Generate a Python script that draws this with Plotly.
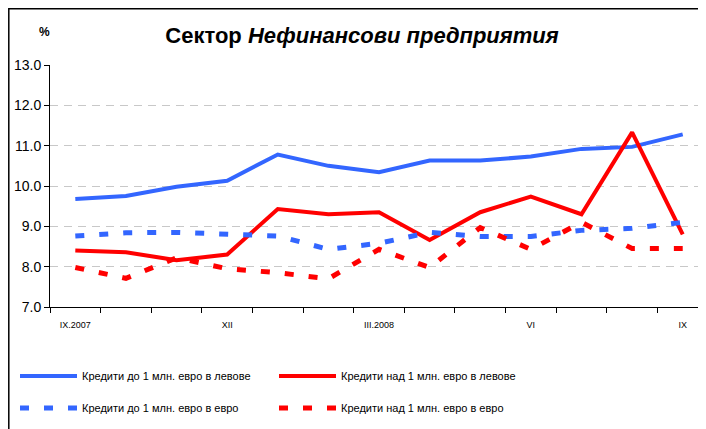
import plotly.graph_objects as go

months = ["IX.2007", "X", "XI", "XII", "I", "II", "III.2008", "IV", "V", "VI", "VII", "VIII", "IX"]
tick_labels = ["IX.2007", "", "", "XII", "", "", "III.2008", "", "", "VI", "", "", "IX"]

lev_small = [9.68, 9.75, 9.98, 10.13, 10.78, 10.50, 10.34, 10.63, 10.63, 10.73, 10.92, 10.97, 11.28]
lev_large = [8.40, 8.36, 8.16, 8.30, 9.43, 9.30, 9.35, 8.66, 9.35, 9.74, 9.30, 11.33, 8.80]
eur_small = [8.76, 8.84, 8.85, 8.80, 8.76, 8.43, 8.58, 8.85, 8.75, 8.75, 8.90, 8.95, 9.10]
eur_large = [7.98, 7.71, 8.22, 7.95, 7.85, 7.70, 8.43, 7.98, 8.97, 8.43, 9.10, 8.45, 8.45]

names = [
    "Кредити до 1 млн. евро в левове",
    "Кредити над 1 млн. евро в левове",
    "Кредити до 1 млн. евро в евро",
    "Кредити над 1 млн. евро в евро",
]

BLUE = "#3366FF"
RED = "#FF0000"
FONT = "Liberation Sans, Arial, sans-serif"

# figure geometry (page has an 8px body margin)
W, H = 698, 421
ML, MT, MR, MB = 42, 57, 0, 122
PW, PH = W - ML - MR, H - MT - MB


def px(v):  # page x -> paper x
    return (v - 8 - ML) / PW


def py(v):  # page y -> paper y
    return (H - MB - (v - 8)) / PH


x = list(range(len(months)))

fig = go.Figure()
fig.add_trace(go.Scatter(x=x, y=lev_small, name=names[0], mode="lines",
                         line=dict(color=BLUE, width=4), legend="legend"))
fig.add_trace(go.Scatter(x=x, y=lev_large, name=names[1], mode="lines",
                         line=dict(color=RED, width=4), legend="legend"))
fig.add_trace(go.Scatter(x=x, y=eur_small, name=names[2], mode="lines",
                         line=dict(color=BLUE, width=5, dash="9px,15px"), legend="legend2"))
fig.add_trace(go.Scatter(x=x, y=eur_large, name=names[3], mode="lines",
                         line=dict(color=RED, width=5, dash="9px,15px"), legend="legend2"))
# invisible trace to activate overlay x-axis for labels
fig.add_trace(go.Scatter(x=x, y=lev_small, xaxis="x2", mode="lines",
                         line=dict(width=0), showlegend=False, hoverinfo="skip", opacity=0))

xr = [-0.5, 12.46]
legend_common = dict(orientation="h", xanchor="left", yanchor="middle",
                     font=dict(family=FONT, size=11, color="black"),
                     itemwidth=57,
                     entrywidth=187, entrywidthmode="pixels",
                     bgcolor="rgba(0,0,0,0)", borderwidth=0)

fig.update_layout(
    width=W, height=H,
    margin=dict(l=ML, r=MR, t=MT, b=MB, autoexpand=False),
    paper_bgcolor="white", plot_bgcolor="white",
    showlegend=True,
    title=dict(text="<b>Сектор <i>Нефинансови предприятия</i></b>",
               font=dict(family=FONT, size=22, color="black"),
               x=(362 - 8) / W, xanchor="center", xref="container",
               y=1 - (35 - 8) / H, yanchor="middle", yref="container"),
    xaxis=dict(range=xr, tickvals=[i - 0.5 for i in range(14)], showticklabels=False,
               ticks="outside", ticklen=5, tickcolor="black", tickwidth=1,
               showline=True, linecolor="black", linewidth=1, showgrid=False, zeroline=False),
    xaxis2=dict(range=xr, overlaying="x", side="bottom", tickvals=x, ticktext=tick_labels,
                ticks="outside", ticklen=9, tickcolor="rgba(0,0,0,0)",
                tickfont=dict(family=FONT, size=9, color="black"),
                showline=False, showgrid=False, zeroline=False),
    yaxis=dict(range=[7, 13], dtick=1, tick0=7, tickformat=".1f",
               ticks="outside", ticklen=5, tickcolor="black",
               tickfont=dict(family=FONT, size=14, color="black"),
               showline=True, linecolor="black", linewidth=1,
               showgrid=True, gridcolor="#C8C8C8", gridwidth=1, griddash="8px,6px",
               zeroline=False),
    legend=dict(x=px(15), y=py(376), **legend_common),
    legend2=dict(x=px(15), y=py(408), **legend_common),
    annotations=[dict(text="<b>%</b>", x=px(44), y=py(32), xanchor="center", yanchor="middle",
                      xref="paper", yref="paper", showarrow=False,
                      font=dict(family=FONT, size=12, color="black"))],
    shapes=[dict(type="rect", xref="paper", yref="paper",
                 x0=px(8.8), x1=1.2, y0=-0.8, y1=py(8.8),
                 line=dict(color="black", width=1.5), fillcolor="rgba(0,0,0,0)")],
)

fig.write_html("out.html")
